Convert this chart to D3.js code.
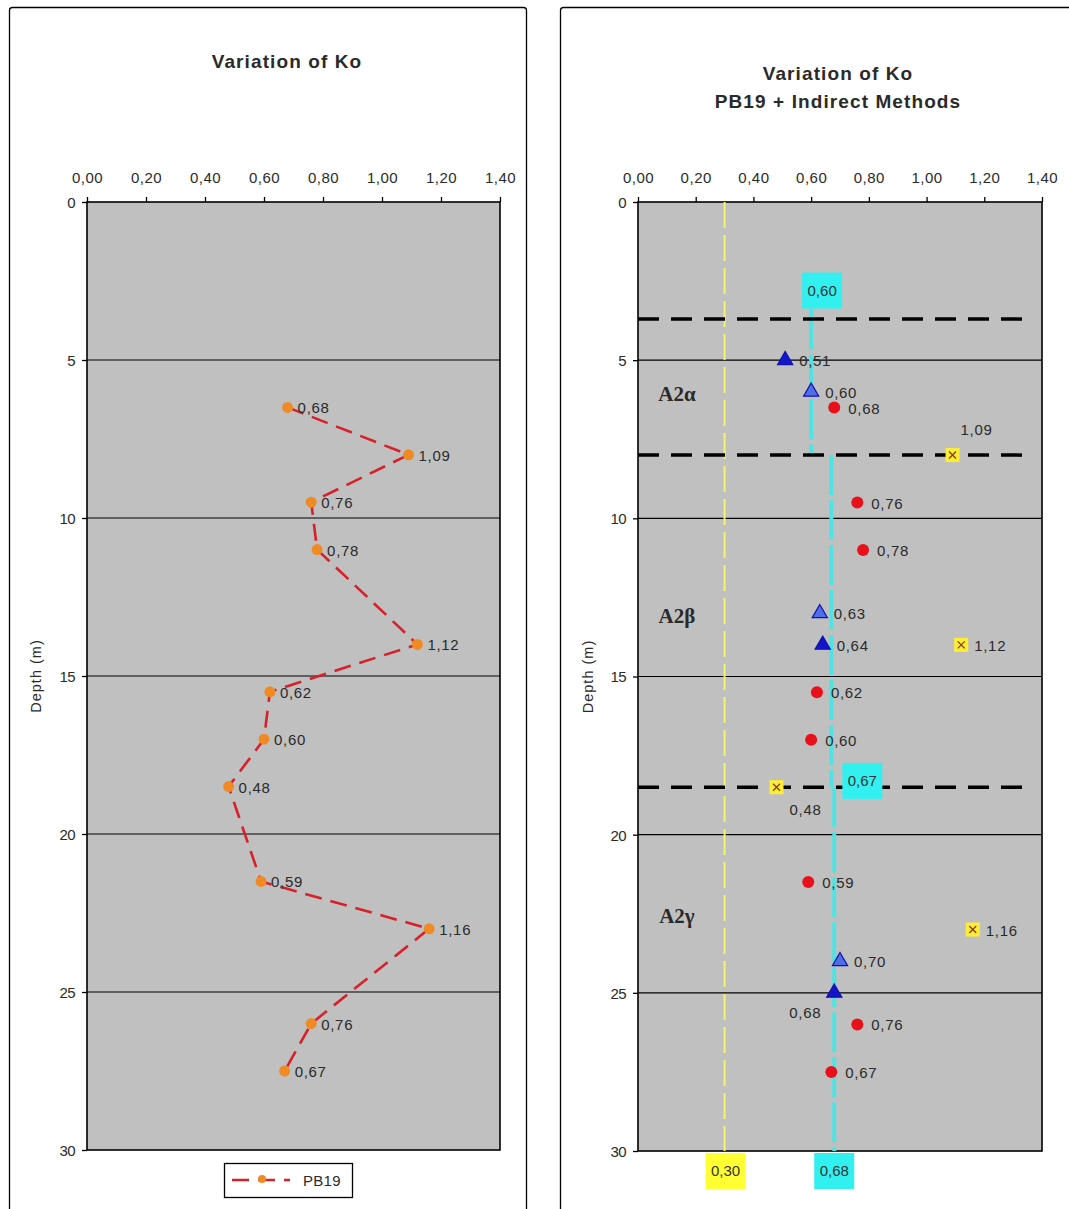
<!DOCTYPE html>
<html>
<head>
<meta charset="utf-8">
<script src="https://cdn.jsdelivr.net/npm/d3@7"></script>
<style>
  html, body { margin: 0; padding: 0; background: #fff; }
  svg { display: block; font-family: "Liberation Sans", Arial, sans-serif; }
</style>
</head>
<body>
<div id="chart"></div>
<script>
// Ko profile with depth, borehole PB19
const pb19Depth = [6.5, 8.0, 9.5, 11.0, 14.0, 15.5, 17.0, 18.5, 21.5, 23.0, 26.0, 27.5];
const pb19Ko    = [0.68, 1.09, 0.76, 0.78, 1.12, 0.62, 0.60, 0.48, 0.59, 1.16, 0.76, 0.67];

// Right chart: PB19 split into regular points and flagged points
const pbRegDepth = [6.5, 9.5, 11.0, 15.5, 17.0, 21.5, 26.0, 27.5];
const pbRegKo    = [0.68, 0.76, 0.78, 0.62, 0.60, 0.59, 0.76, 0.67];
const pbFlagDepth = [8.0, 14.0, 18.5, 23.0];
const pbFlagKo    = [1.09, 1.12, 0.48, 1.16];

// Indirect methods (two groups of triangles)
const indADepth = [5.0, 14.0, 25.0];
const indAKo    = [0.51, 0.64, 0.68];
const indBDepth = [6.0, 13.0, 24.0];
const indBKo    = [0.60, 0.63, 0.70];

// Layer boundaries and layer names
const layerBounds = [3.7, 8.0, 18.5];
const layerNames  = ["A2α", "A2β", "A2γ"];
const layerMid    = [6.3, 13.3, 22.8];

// Mean Ko per layer (cyan) and lower reference (yellow)
const meanFrom = [3.4, 8.0, 18.5];
const meanTo   = [8.0, 18.5, 30.0];
const meanKo   = [0.60, 0.67, 0.68];
const refKo    = 0.30;

const xTicks = [0, 0.2, 0.4, 0.6, 0.8, 1.0, 1.2, 1.4];
const yTicks = [0, 5, 10, 15, 20, 25, 30];

const fmt = v => v.toFixed(2).replace(".", ",");
const TXT = "#2a2a2a";

const W = 1069, H = 1209;
const svg = d3.select("#chart").append("svg").attr("width", W).attr("height", H);

// Panel frames
svg.append("rect").attr("x", 9.5).attr("y", 7.5).attr("width", 517).attr("height", 1230)
  .attr("rx", 3).attr("fill", "#fff").attr("stroke", "#000").attr("stroke-width", 1.3);
svg.append("rect").attr("x", 560.5).attr("y", 7.5).attr("width", 540).attr("height", 1230)
  .attr("rx", 3).attr("fill", "#fff").attr("stroke", "#000").attr("stroke-width", 1.3);

function panel(x0, x1, y0, y1, ylabX) {
  const g = svg.append("g");
  const x = d3.scaleLinear().domain([0, 1.4]).range([x0, x1]);
  const y = d3.scaleLinear().domain([0, 30]).range([y0, y1]);
  g.append("rect").attr("x", x0).attr("y", y0).attr("width", x1 - x0).attr("height", y1 - y0)
    .attr("fill", "#c0c0c0");
  // horizontal gridlines
  g.selectAll("line.grid").data(yTicks.slice(1, -1)).join("line")
    .attr("x1", x0).attr("x2", x1).attr("y1", d => y(d)).attr("y2", d => y(d))
    .attr("stroke", "#000").attr("stroke-width", 1.2);
  g.append("rect").attr("x", x0).attr("y", y0).attr("width", x1 - x0).attr("height", y1 - y0)
    .attr("fill", "none").attr("stroke", "#000").attr("stroke-width", 1.6);
  const ax = g.append("g").attr("transform", `translate(0,${y0})`)
    .call(d3.axisTop(x).tickValues(xTicks).tickFormat(fmt).tickSize(5).tickPadding(14));
  const ay = g.append("g").attr("transform", `translate(${x0},0)`)
    .call(d3.axisLeft(y).tickValues(yTicks).tickSize(5).tickPadding(7));
  [ax, ay].forEach(a => {
    a.select(".domain").remove();
    a.selectAll("text").attr("font-size", 15).attr("fill", TXT)
      .attr("font-family", "'Liberation Sans', Arial, sans-serif");
    a.selectAll("line").attr("stroke", "#000").attr("stroke-width", 1.3);
  });
  ax.selectAll("text").attr("letter-spacing", 0.5);
  ay.selectAll("text").attr("letter-spacing", -0.6).attr("dy", "0.36em");
  g.append("text").attr("transform", `translate(${ylabX},${(y0 + y1) / 2}) rotate(-90)`)
    .attr("text-anchor", "middle").attr("font-size", 14.5).attr("letter-spacing", 1)
    .attr("fill", TXT).text("Depth (m)");
  return { g, x, y };
}

function title(cx, cy, txt) {
  svg.append("text").attr("x", cx).attr("y", cy).attr("text-anchor", "middle")
    .attr("font-size", 19).attr("font-weight", "bold").attr("letter-spacing", 1.1)
    .attr("fill", TXT).text(txt);
}

// ---------- Left chart ----------
const L = panel(87, 500, 202, 1150, 41);
title(287, 68, "Variation of Ko");

const pbPts = pb19Depth.map((d, i) => ({ d, k: pb19Ko[i] }));
L.g.append("path").datum(pbPts)
  .attr("d", d3.line().x(p => L.x(p.k)).y(p => L.y(p.d)))
  .attr("fill", "none").attr("stroke", "#d8202a").attr("stroke-width", 2.6)
  .attr("stroke-dasharray", "17,9");
L.g.selectAll("circle.pb").data(pbPts).join("circle")
  .attr("cx", p => L.x(p.k)).attr("cy", p => L.y(p.d)).attr("r", 5.5).attr("fill", "#f08a24");
L.g.selectAll("text.pb").data(pbPts).join("text")
  .attr("x", p => L.x(p.k) + 10).attr("y", p => L.y(p.d) + 6)
  .attr("font-size", 15).attr("letter-spacing", 0.7).attr("fill", TXT).text(p => fmt(p.k));

// legend
svg.append("rect").attr("x", 224.5).attr("y", 1163.5).attr("width", 128).attr("height", 34)
  .attr("fill", "#fff").attr("stroke", "#000").attr("stroke-width", 1.3);
svg.append("line").attr("x1", 232).attr("x2", 290).attr("y1", 1180).attr("y2", 1180)
  .attr("stroke", "#d8202a").attr("stroke-width", 2.6).attr("stroke-dasharray", "17,9");
svg.append("circle").attr("cx", 262).attr("cy", 1179).attr("r", 4).attr("fill", "#f08a24");
svg.append("text").attr("x", 303).attr("y", 1186).attr("font-size", 15).attr("letter-spacing", 0.3)
  .attr("fill", TXT).text("PB19");

// ---------- Right chart ----------
const R = panel(638, 1042, 202, 1151, 593);
title(838, 80, "Variation of Ko");
title(838, 108, "PB19 + Indirect Methods");

// reference line
R.g.append("line").attr("x1", R.x(refKo)).attr("x2", R.x(refKo)).attr("y1", R.y(0)).attr("y2", R.y(30))
  .attr("stroke", "#f4f46a").attr("stroke-width", 2).attr("stroke-dasharray", "26,7");

// layer mean lines
R.g.selectAll("line.mean").data(meanKo).join("line")
  .attr("x1", k => R.x(k)).attr("x2", k => R.x(k))
  .attr("y1", (k, i) => R.y(meanFrom[i])).attr("y2", (k, i) => R.y(meanTo[i]))
  .attr("stroke", "#4fe3e3").attr("stroke-width", 4).attr("stroke-dasharray", "40,5");

// layer boundaries
R.g.selectAll("line.bound").data(layerBounds).join("line")
  .attr("x1", R.x(0)).attr("x2", R.x(1.35)).attr("y1", d => R.y(d)).attr("y2", d => R.y(d))
  .attr("stroke", "#000").attr("stroke-width", 3.5).attr("stroke-dasharray", "21,12");

// layer names
R.g.selectAll("text.layer").data(layerNames).join("text")
  .attr("x", R.x(0.135)).attr("y", (t, i) => R.y(layerMid[i]))
  .attr("text-anchor", "middle").attr("font-family", "'Liberation Serif', 'Times New Roman', serif")
  .attr("font-weight", "bold").attr("font-size", 21).attr("fill", TXT).text(t => t);

// value boxes
function valueBox(cx, cy, txt, fill) {
  svg.append("rect").attr("x", cx - 20).attr("y", cy - 18).attr("width", 40).attr("height", 36)
    .attr("fill", fill);
  svg.append("text").attr("x", cx).attr("y", cy + 5).attr("text-anchor", "middle")
    .attr("font-size", 15).attr("fill", "#333").text(txt);
}
valueBox(R.x(meanKo[0]) + 11, R.y(2.8), fmt(meanKo[0]), "#33f0f0");
valueBox(R.x(meanKo[1]) + 31, R.y(18.3), fmt(meanKo[1]), "#33f0f0");
valueBox(R.x(meanKo[2]), 1171, fmt(meanKo[2]), "#33f0f0");
valueBox(R.x(refKo) + 1, 1171, fmt(refKo), "#ffff33");

// regular PB19 points
const regPts = pbRegDepth.map((d, i) => ({ d, k: pbRegKo[i] }));
R.g.selectAll("circle.reg").data(regPts).join("circle")
  .attr("cx", p => R.x(p.k)).attr("cy", p => R.y(p.d)).attr("r", 6).attr("fill", "#e8101a");
R.g.selectAll("text.reg").data(regPts).join("text")
  .attr("x", p => R.x(p.k) + 14).attr("y", p => R.y(p.d) + 6)
  .attr("font-size", 15).attr("letter-spacing", 0.7).attr("fill", TXT).text(p => fmt(p.k));

// flagged PB19 points
const flagLabel = { 1.09: [8, -20, "start"], 0.48: [29, 28, "middle"] };
const flagPts = pbFlagDepth.map((d, i) => ({ d, k: pbFlagKo[i] }));
const fg = R.g.selectAll("g.flag").data(flagPts).join("g")
  .attr("transform", p => `translate(${R.x(p.k)},${R.y(p.d)})`);
fg.append("rect").attr("x", -7).attr("y", -7).attr("width", 14).attr("height", 14).attr("fill", "#ffee33");
fg.append("path").attr("d", "M-3.5,-3.5L3.5,3.5M-3.5,3.5L3.5,-3.5")
  .attr("stroke", "#8a3a10").attr("stroke-width", 1.3);
fg.append("text")
  .attr("x", p => flagLabel[p.k] ? flagLabel[p.k][0] : 13)
  .attr("y", p => flagLabel[p.k] ? flagLabel[p.k][1] : 6)
  .attr("text-anchor", p => flagLabel[p.k] ? flagLabel[p.k][2] : "start")
  .attr("font-size", 15).attr("letter-spacing", 0.7).attr("fill", TXT).text(p => fmt(p.k));

// indirect-method triangles
const tri = d3.symbol().type(d3.symbolTriangle).size(100);
function triangles(depths, kos, fill, cls) {
  const pts = depths.map((d, i) => ({ d, k: kos[i] }));
  const tg = R.g.selectAll("g." + cls).data(pts).join("g")
    .attr("transform", p => `translate(${R.x(p.k)},${R.y(p.d)})`);
  tg.append("path").attr("d", tri).attr("fill", fill).attr("stroke", "#1010b0").attr("stroke-width", 1.2);
  const below = p => p.k === 0.68 && p.d === 25;
  tg.append("text")
    .attr("x", p => (below(p) ? -29 : 14))
    .attr("y", p => (below(p) ? 25 : 6))
    .attr("text-anchor", p => (below(p) ? "middle" : "start"))
    .attr("font-size", 15).attr("letter-spacing", 0.7).attr("fill", TXT).text(p => fmt(p.k));
}
triangles(indADepth, indAKo, "#1414c8", "indA");
triangles(indBDepth, indBKo, "#4f6fe6", "indB");
</script>
</body>
</html>
